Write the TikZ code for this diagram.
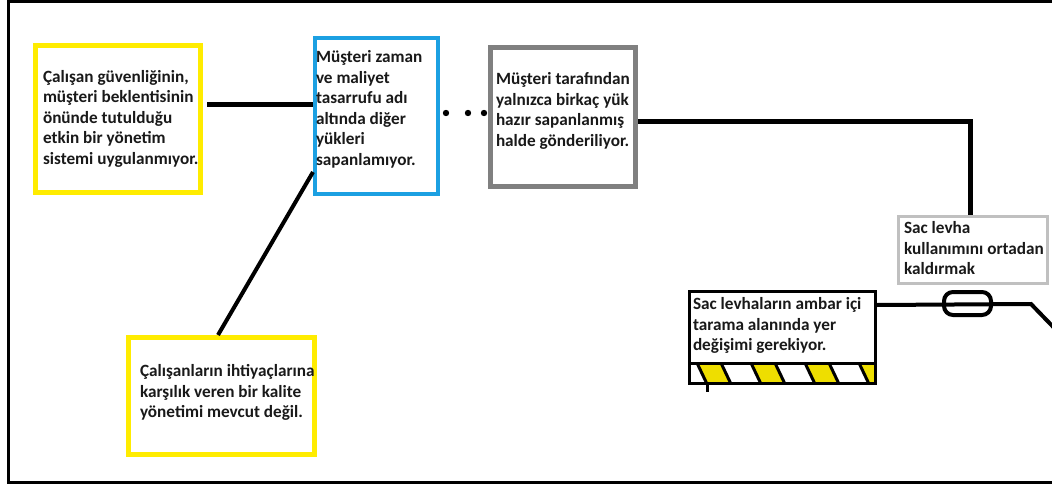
\documentclass[tikz,border=0pt]{standalone}
\usepackage{fontspec}
\setmainfont{Carlito}
\usetikzlibrary{calc}

\definecolor{ink}{RGB}{25,25,25}
\definecolor{sunyellow}{RGB}{255,236,0}
\definecolor{skyblue}{RGB}{28,160,226}
\definecolor{midgray}{RGB}{128,128,128}
\definecolor{palegray}{RGB}{192,192,192}
\definecolor{hazard}{RGB}{238,222,0}

% left-aligned block of fixed lines inside a box of given height/width
\newcommand{\boxlines}[4]{\parbox[c][#1][#2]{#3}{\begin{tabular}{@{}l@{}}#4\end{tabular}}}

\begin{document}
\begin{tikzpicture}[x=1pt,y=-1pt,
  card/.style={draw=#1, inner sep=0pt, font=\bfseries\fontsize{17.2}{20.5}\selectfont, text=ink},
  link/.style={draw=black, line width=#1},
  frameline/.style={draw=black, line width=3pt},
]
\useasboundingbox (0,0) rectangle (1052,484);
\fill[white] (0,0) rectangle (1052,484);

% outer frame (open on the right)
\draw[frameline] (1052,1.5) -- (8,1.5) -- (8,482) -- (1052,482);

% hazard stripes along the bottom of the relocation box
\begin{scope}
  \clip (689.5,363) rectangle (875.5,383.5);
  \foreach \s in {697,751,805,859} {
    \fill[hazard] (\s,363) -- ++(24,0) -- ++(10,21) -- ++(-24,0) -- cycle;
    \draw[line width=3pt] (\s,363) -- ++(10,21);
    \draw[line width=3pt] (\s+24,363) -- ++(10,21);
  }
\end{scope}

% boxes
\node[card=sunyellow, line width=5pt, minimum width=165pt, minimum height=147pt] (safety) at (118,119)
  {\boxlines{140pt}{c}{150pt}{Çalışan güvenliğinin,\\ müşteri beklentisinin\\ önünde tutulduğu\\ etkin bir yönetim\\ sistemi uygulanmıyor.}};

\node[card=skyblue, line width=4pt, minimum width=123pt, minimum height=156pt] (saving) at (376.5,116)
  {\boxlines{134.7pt}{t}{121pt}{Müşteri zaman\\ ve maliyet\\ tasarrufu adı\\ altında diğer\\ yükleri\\ sapanlamıyor.}};

\node[card=midgray, line width=5pt, minimum width=145pt, minimum height=139pt] (ready) at (563,117)
  {\boxlines{92.7pt}{t}{134pt}{Müşteri tarafından\\ yalnızca birkaç yük\\ hazır sapanlanmış\\ halde gönderiliyor.}};

\node[card=palegray, line width=3pt, minimum width=149pt, minimum height=67pt] (plate) at (973,250)
  {\boxlines{60pt}{c}{138pt}{Sac levha\\ kullanımını ortadan\\ kaldırmak}};

\node[card=sunyellow, line width=5pt, minimum width=186pt, minimum height=117pt] (quality) at (221.5,396)
  {\boxlines{66.8pt}{t}{163pt}{Çalışanların ihtiyaçlarına\\ karşılık veren bir kalite\\ yönetimi mevcut değil.}};

\node[card=black, line width=3pt, minimum width=186pt, minimum height=92pt] (move) at (782.5,337.5)
  {\boxlines{83.8pt}{t}{179pt}{Sac levhaların ambar içi\\ tarama alanında yer\\ değişimi gerekiyor.}};

% divider above the stripes and the small tick below
\draw[line width=3pt] ([yshift=-25.5pt]move.west) -- ([yshift=-25.5pt]move.east);
\coordinate (tickTop) at (707,384);
\coordinate (tickEnd) at (707,392);
\draw[line width=3pt] (tickTop) -- (tickEnd);

% connectors
\draw[link=5pt, shorten <=4pt] ([yshift=14pt]safety.east) -- ([yshift=11pt]saving.west);
\draw[link=4pt] ([yshift=-56pt]saving.west) -- ([xshift=-3.5pt]quality.north);
\foreach \x in {446,468,484} \fill (\x,113) circle (3.2pt);
\draw[link=5pt] ([yshift=-5pt]ready.east) -| ([xshift=-3pt]plate.north);

\coordinate (bend) at (1031,304);
\coordinate (offR) at (1062,336);
\draw[link=4pt] ([yshift=32.5pt]move.east) -- (bend) -- (offR);
\node[draw, line width=4pt, rounded corners=9pt, minimum width=47pt, minimum height=23pt, inner sep=0pt] (clamp) at (967.5,303.5) {};
\end{tikzpicture}
\end{document}
